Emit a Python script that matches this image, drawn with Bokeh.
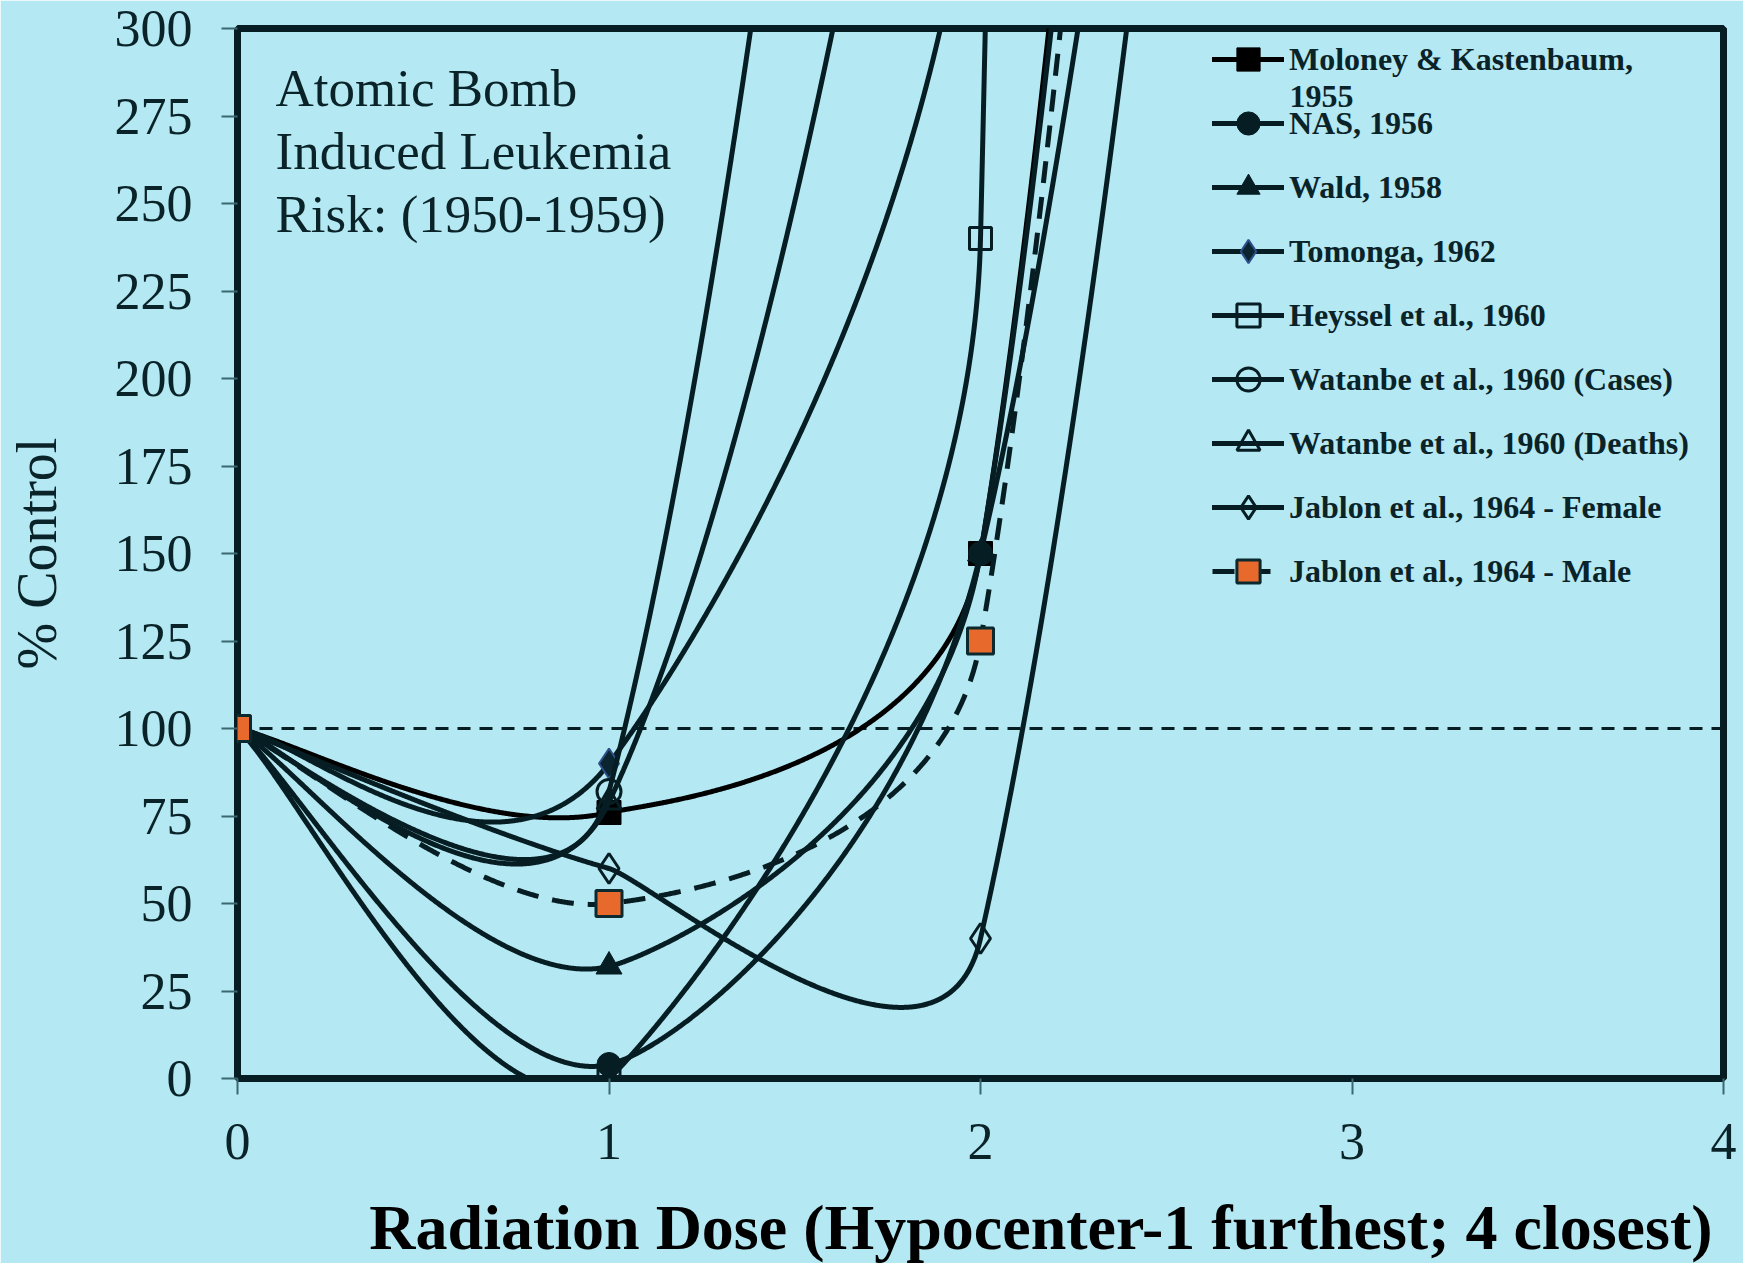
import math
from bokeh.plotting import figure
from bokeh.models import Range1d, FixedTicker, Label, Legend, LegendItem, Title
from bokeh.embed import file_html
from bokeh.resources import INLINE

# ---------------- data ----------------
dose = [0, 1, 2, 3, 4]
moloney = [100, 76, 150, 1350, 2700]
nas = [100, 4, 150, 900, 1800]
wald = [100, 32, 150, 1280, 2560]
tomonga = [100, 90, 375, 3000, 6000]
heyssel = [100, 0, 240, 9000, 12000]
watanabe_cases = [100, 82, 920, 2760, 5500]
watanabe_deaths = [100, 79, 550, 1650, 3300]
jablon_female = [100, 60, 40, 1000, 3100]
jablon_male = [100, 50, 125, 1280, 2560]
control_x = [0, 4]
control_y = [100, 100]
x_ticks = [0, 1, 2, 3, 4]
y_ticks = [0, 25, 50, 75, 100, 125, 150, 175, 200, 225, 250, 275, 300]
series_names = ["Moloney & Kastenbaum,", "NAS, 1956", "Wald, 1958", "Tomonga, 1962",
                "Heyssel et al., 1960", "Watanbe et al., 1960 (Cases)",
                "Watanbe et al., 1960 (Deaths)", "Jablon et al., 1964 - Female",
                "Jablon et al., 1964 - Male"]

# ---------------- layout ----------------
BG = "#B4E8F3"
INK = "#061E23"
TXT = "#0A2328"
W, H = 1743, 1263
FRAME_LEFT, FRAME_TOP = 237, 28
FW, FH = 1486, 1050
FRAME_BOTTOM = FRAME_TOP + FH
X0, X1, Y0, Y1 = 0, 4, 0, 300
SX = FW / (X1 - X0)
SY = FH / (Y1 - Y0)


def dx(px):
    return X0 + (px - FRAME_LEFT) / SX


def dy(py):
    return Y0 + (FRAME_BOTTOM - py) / SY


def smooth(xs, ys, n=400):
    """Excel-style smoothed line: Bezier segments with tension 1/6, reduced when
    the arms would exceed half of the segment length (computed in pixel space)."""
    P = [(x * SX, y * SY) for x, y in zip(xs, ys)]
    m = len(P)
    ox, oy = [], []
    for i in range(m - 1):
        p0 = P[i - 1] if i > 0 else P[i]
        p1, p2 = P[i], P[i + 1]
        p3 = P[i + 2] if i + 2 < m else P[i + 1]
        d12 = math.hypot(p2[0] - p1[0], p2[1] - p1[1])
        d02 = math.hypot(p2[0] - p0[0], p2[1] - p0[1])
        d13 = math.hypot(p3[0] - p1[0], p3[1] - p1[1])
        f = 1.0 / 6.0
        dm = max(d02, d13)
        if dm * f > d12 / 2:
            f = d12 / (2 * dm)
        c1 = (p1[0] + f * (p2[0] - p0[0]), p1[1] + f * (p2[1] - p0[1]))
        c2 = (p2[0] - f * (p3[0] - p1[0]), p2[1] - f * (p3[1] - p1[1]))
        for k in range(n + 1):
            if i > 0 and k == 0:
                continue
            t = k / n
            u = 1 - t
            b0, b1, b2, b3 = u ** 3, 3 * u * u * t, 3 * u * t * t, t ** 3
            ox.append((b0 * p1[0] + b1 * c1[0] + b2 * c2[0] + b3 * p2[0]) / SX)
            oy.append((b0 * p1[1] + b1 * c1[1] + b2 * c2[1] + b3 * p2[1]) / SY)
    return ox, oy


p = figure(frame_width=FW, frame_height=FH,
           min_border_left=FRAME_LEFT, min_border_right=W - FRAME_LEFT - FW,
           min_border_top=FRAME_TOP, min_border_bottom=H - FRAME_BOTTOM,
           x_range=Range1d(X0, X1), y_range=Range1d(Y0, Y1),
           output_backend="svg", toolbar_location=None)
p.background_fill_color = BG
p.border_fill_color = BG
p.outline_line_color = INK
p.outline_line_width = 7
p.grid.visible = False

for ax in (p.xaxis[0], p.yaxis[0]):
    ax.axis_line_color = None
    ax.major_tick_line_color = "#3A6870"
    ax.major_tick_line_width = 2
    ax.major_tick_out = 16
    ax.major_tick_in = 0
    ax.minor_tick_line_color = None
    ax.major_label_text_font = "Liberation Serif"
    ax.major_label_text_font_size = "52px"
    ax.major_label_text_color = TXT
p.xaxis.ticker = FixedTicker(ticks=x_ticks)
p.yaxis.ticker = FixedTicker(ticks=y_ticks)
p.xaxis.major_label_standoff = 29
p.yaxis.major_label_standoff = 29

p.yaxis.axis_label = "% Control"
p.yaxis.axis_label_text_font = "Liberation Serif"
p.yaxis.axis_label_text_font_size = "56px"
p.yaxis.axis_label_text_font_style = "normal"
p.yaxis.axis_label_text_color = TXT
p.yaxis.axis_label_standoff = 44

xt = Title(text="Radiation Dose (Hypocenter-1 furthest; 4 closest)", align="right", offset=11,
           text_font="Liberation Serif", text_font_style="bold", text_font_size="64px",
           text_color="#000000", standoff=56)
p.add_layout(xt, "below")

# control (100 %) reference line
p.line(control_x, control_y, line_color=INK, line_width=3, line_dash="13 9")

styles = [
    (moloney, "#000000", None, "square", "#000000", "#000000", 24, 1),
    (nas, INK, None, "circle", INK, INK, 24, 1),
    (wald, INK, None, "triangle", INK, INK, 26, 1),
    (tomonga, INK, None, "diamond", "#0B2530", "#2E4F8C", 30, 2),
    (heyssel, INK, None, "square", None, INK, 22, 3),
    (watanabe_cases, INK, None, "circle", None, INK, 24, 3),
    (watanabe_deaths, INK, None, "triangle", None, INK, 24, 3),
    (jablon_female, INK, None, "diamond", None, INK, 30, 3),
    (jablon_male, INK, "22 14", "square", "#E8692C", "#0B2A30", 26, 3),
]

items = []
for name, (vals, lc, dash, mk, fc, mlc, sz, mlw) in zip(series_names, styles):
    sx_, sy_ = smooth(dose, vals)
    kw = dict(line_color=lc, line_width=5, line_join="round", line_cap="round")
    if dash:
        kw["line_dash"] = dash
        kw["line_cap"] = "butt"
    lr = p.line(sx_, sy_, **kw)
    mr = p.scatter(dose, vals, marker=mk, size=sz,
                   fill_color=fc if fc else BG, fill_alpha=1 if fc else 0,
                   line_color=mlc, line_width=mlw)
    items.append(LegendItem(label=name, renderers=[lr, mr]))

GH, SP = 58, 6
n_items = len(items)
leg_h = n_items * GH + (n_items - 1) * SP
leg_top = 59 - GH / 2
legend = Legend(items=items,
                location=(1212 - FRAME_LEFT, FH - (leg_top - FRAME_TOP) - leg_h),
                glyph_width=72, glyph_height=GH, label_height=GH, spacing=SP,
                padding=0, margin=0, label_standoff=5,
                border_line_color=None, background_fill_alpha=0,
                label_text_font="Liberation Serif", label_text_font_style="bold",
                label_text_font_size="32px", label_text_color=TXT)
p.add_layout(legend)

p.add_layout(Label(x=dx(1289), y=dy(96), text="1955", text_font="Liberation Serif",
                   text_font_style="bold", text_font_size="32px", text_color=TXT,
                   text_baseline="middle", text_align="left"))

for txt, yy in (("Atomic Bomb", 87), ("Induced Leukemia", 150), ("Risk: (1950-1959)", 213)):
    p.add_layout(Label(x=dx(275), y=dy(yy), text=txt, text_font="Liberation Serif",
                       text_font_size="53px", text_color=TXT,
                       text_baseline="middle", text_align="left"))

open("out.html", "w").write(file_html(p, INLINE))
